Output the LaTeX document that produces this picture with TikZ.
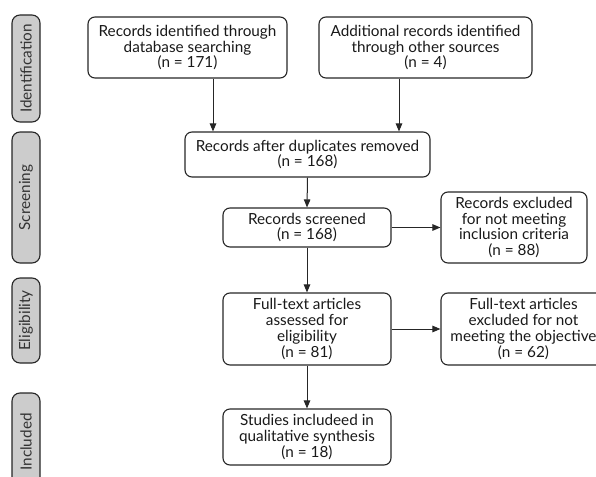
\documentclass[tikz,border=0pt]{standalone}
\usepackage{fontspec}
\setmainfont{Lato}
\usetikzlibrary{arrows.meta}
\begin{document}
\begin{tikzpicture}[x=1pt,y=-1pt,
  box/.style={draw=black!85, line width=1.1pt, rounded corners=7pt, align=center,
    inner sep=0pt, font=\fontsize{15.3}{15.8}\selectfont, text=black!90},
  side/.style={draw=black!85, line width=1.1pt, rounded corners=8pt, fill=black!20,
    minimum width=28pt, inner sep=0pt},
  sidetext/.style={rotate=90, font=\fontsize{15.3}{15.8}\selectfont, text=black!80},
  arr/.style={draw=black!85, line width=1pt, -{Triangle[length=8pt,width=6.5pt]}}]
\useasboundingbox (0,0) rectangle (596,476);
% side phase boxes
\node[side, minimum height=107pt] (s1) at (26,68.5) {};
\node[sidetext] (t1) at (s1.center) {Identification};
\node[side, minimum height=131pt] (s2) at (26,197.5) {};
\node[sidetext] (t2) at (s2.center) {Screening};
\node[side, minimum height=85pt] (s3) at (26,320.5) {};
\node[sidetext] (t3) at (s3.center) {Eligibility};
\node[side, minimum height=98pt] (s4) at (26,442) {};
\node[sidetext] (t4) at (s4.center) {Included};
% main boxes
\node[box, minimum width=199pt, minimum height=61pt] (b1) at (187.5,47.5)
  {Records identified through\\database searching\\(n = 171)};
\node[box, minimum width=213pt, minimum height=61pt] (b2) at (425.5,47.5)
  {Additional records identified\\through other sources\\(n = 4)};
\node[box, minimum width=245pt, minimum height=45pt] (b3) at (307.5,154.5)
  {Records after duplicates removed\\(n = 168)};
\node[box, minimum width=168pt, minimum height=39pt] (b4) at (307,227.5)
  {Records screened\\(n = 168)};
\node[box, minimum width=146pt, minimum height=71pt] (b5) at (514,227.5)
  {Records excluded\\for not meeting\\inclusion criteria\\(n = 88)};
\node[box, minimum width=168pt, minimum height=72pt] (b6) at (307,329)
  {Full-text articles\\assessed for\\eligibility\\(n = 81)};
\node[box, minimum width=165pt, minimum height=72pt] (b7) at (523.5,329)
  {Full-text articles\\excluded for not\\meeting the objective\\(n = 62)};
\node[box, minimum width=168pt, minimum height=56pt] (b8) at (307,437)
  {Studies includeed in\\qualitative synthesis\\(n = 18)};
% connectors
\coordinate (c1) at (213,0);
\coordinate (c2) at (399,0);
\draw[arr] (b1.south -| c1) -- (b3.north -| c1);
\draw[arr] (b2.south -| c2) -- (b3.north -| c2);
\draw[arr] (b3.south) -- (b4.north);
\draw[arr] (b4.east) -- (b5.west |- b4.east);
\draw[arr] (b4.south) -- (b6.north);
\draw[arr] (b6.east) -- (b7.west |- b6.east);
\draw[arr] (b6.south) -- (b8.north);
\end{tikzpicture}
\end{document}
